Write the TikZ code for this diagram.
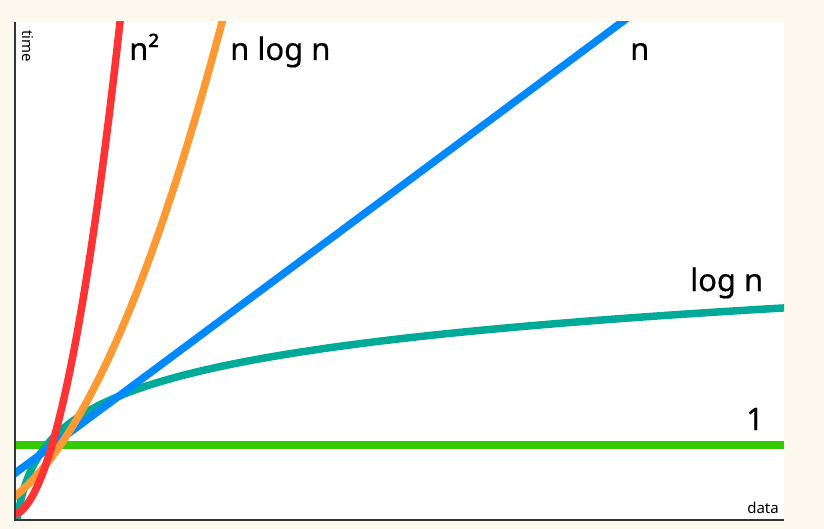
\documentclass[tikz,border=0pt]{standalone}
\usepackage{fontspec}
\setmainfont{Noto Sans}
\newfontfamily\tagfont[FakeBold=0.4]{Noto Sans}
\usetikzlibrary{positioning}
\definecolor{paper}{HTML}{FDF8EE}
\definecolor{axisgray}{HTML}{333333}
\definecolor{sqred}{HTML}{FF3333}
\definecolor{nlogorange}{HTML}{FF9933}
\definecolor{linblue}{HTML}{0088FF}
\definecolor{logteal}{HTML}{00AA99}
\definecolor{constgreen}{HTML}{33CC00}
\tikzset{
  curve/.style={line width=7.5pt, line join=round},
  axis/.style={axisgray, line width=2.5pt},
  bigtag/.style={anchor=base west, inner sep=0pt, font=\tagfont\fontsize{31}{31}\selectfont},
  smalltag/.style={inner sep=0pt, font=\fontsize{15}{15}\selectfont}
}

\begin{document}
\begin{tikzpicture}[x=1pt,y=-1pt]
      % First paint the paper and fix the page.
      \fill[paper] (0,0) rectangle (824,529);
      \useasboundingbox (0,0) rectangle (824,529);
      \fill[white] (14,22) rectangle (784,521);

      % Draw the growth curves, cut at the plot area.
      \begin{scope}
        \clip (16,22) rectangle (784,519);
        \draw[curve,constgreen] (14,445) -- (784,445);
        \draw[curve,logteal] plot[domain=11.5:790,samples=400] (\x,{607.25-45*ln(\x-10)});
        \draw[curve,linblue] plot[domain=10:630,samples=2] (\x,{474-0.7434*(\x-14)});
        \draw[curve,nlogorange] plot[domain=10:232,samples=80] (\x,{497-0.787*(\x-14)-0.00719*(\x-14)*(\x-14)});
        \draw[curve,sqred] plot[domain=12:124,samples=80] (\x,{515-0.272*(\x-14)-0.0413*(\x-14)*(\x-14)});
      \end{scope}

      % Now draw the axes.
      \draw[axis] (15,22) -- (15,521);
      \draw[axis] (14,520) -- (784,520);

      % Label the axes.
      \node[smalltag,rotate=-90,anchor=base west] (timetag) at (22,30) {time};
      \node[smalltag,anchor=base east] (datatag) at (779,513) {data};

      % Label the curves.
      \node[bigtag] (sqtag) at (129,60) {n²};
      \node[bigtag] (nlogtag) at (230,60) {n log n};
      \node[bigtag] (lintag) at (630,60) {n};
      \node[bigtag] (logtag) at (690,291) {log n};
      \node[bigtag,anchor=base] (consttag) at (755,430) {1};

    \end{tikzpicture}
\end{document}
